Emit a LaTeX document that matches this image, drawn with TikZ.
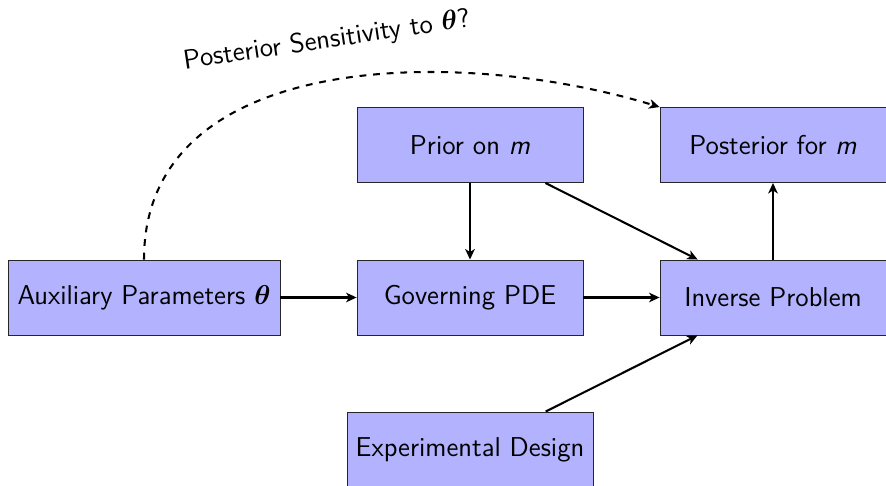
\documentclass[tikz,border=0pt]{standalone}
\usepackage{amsmath,bm}
\usetikzlibrary{arrows.meta}
\begin{document}
\begin{tikzpicture}[x=0.44pt,y=-0.44pt,
  box/.style={draw=black!85, fill=blue!30, minimum height=33pt, inner sep=0pt, font=\sffamily\fontsize{12}{14}\selectfont},
  conn/.style={-{Stealth[length=4.6pt,width=4.2pt,inset=1.3pt]}, line width=0.9pt}]
\useasboundingbox (0,0) rectangle (886,486);
\node[box, minimum width=119.7pt] (aux) at (144,297.5) {Auxiliary Parameters $\boldsymbol{\theta}$};
\node[box, minimum width=99.4pt] (gov) at (470,297.5) {Governing PDE};
\node[box, minimum width=99.4pt] (prior) at (470,145) {Prior on \textit{m}};
\node[box, minimum width=99.4pt] (post) at (773,145) {Posterior for \textit{m}};
\node[box, minimum width=99.4pt] (inv) at (773,297.5) {Inverse Problem};
\node[box, minimum width=108.2pt] (exp) at (470,449.5) {Experimental Design};
\draw[conn] (aux) -- (gov);
\draw[conn] (gov) -- (inv);
\draw[conn] (prior) -- (gov);
\draw[conn] (prior) -- (inv);
\draw[conn] (exp) -- (inv);
\draw[conn] (inv) -- (post);
\draw[conn, dashed] (aux.north) to[out=90, in=163] (post.north west);
\node[rotate=8.5, font=\sffamily\fontsize{12}{14}\selectfont] (lab) at (327,41) {Posterior Sensitivity to $\boldsymbol{\theta}$?};
\end{tikzpicture}
\end{document}
